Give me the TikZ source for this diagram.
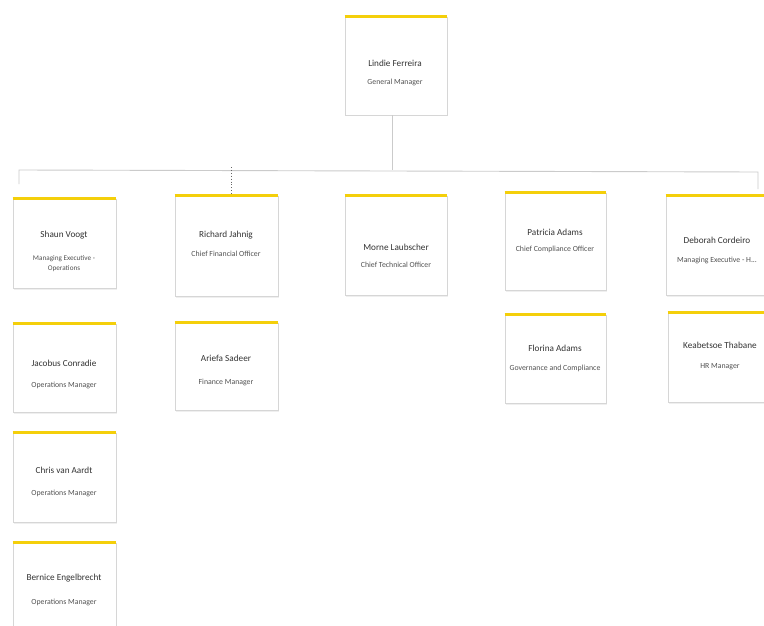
\documentclass[tikz,border=0pt]{standalone}
\usepackage{fontspec}
\setmainfont{Carlito}
\usetikzlibrary{shadows}
\definecolor{barY}{HTML}{F4CF0A}
\definecolor{boxG}{HTML}{D6D6D6}
\definecolor{lineG}{HTML}{CBCBCB}
\definecolor{txtG}{HTML}{333333}
\tikzset{
  card/.style={draw=boxG, line width=0.8pt, fill=white, inner sep=0pt,
    drop shadow={opacity=0.12, shadow xshift=1pt, shadow yshift=-1.5pt}},
  ybar/.style={draw=barY, line width=3pt},
  nm/.style={font=\fontsize{9.2}{10}\selectfont, text=txtG, inner sep=0pt},
  rl/.style={font=\fontsize{7.8}{9}\selectfont, text=txtG!85, inner sep=0pt, align=center},
  rlsmall/.style={rl, font=\fontsize{7.2}{9.5}\selectfont},
  conn/.style={draw=lineG, line width=0.9pt},
  dotconn/.style={draw=black!60, line width=0.9pt, dotted}
}
\begin{document}
\begin{tikzpicture}[x=1pt,y=-1pt]
\useasboundingbox (0,0) rectangle (764,626);
\clip (0,0) rectangle (764,626);
\fill[white] (0,0) rectangle (764,626);

% connector end points
\coordinate (gmdrop) at (392,115);
\coordinate (busM) at (392,170);
\coordinate (busL) at (19,170);
\coordinate (busR) at (758,172);
\coordinate (endL) at (19,184);
\coordinate (endR) at (758,189);
\coordinate (dotT) at (231,167);

% boxes
\node[card, minimum width=102, minimum height=98] (gm) at (396,66) {};
\node[card, minimum width=103, minimum height=89] (shaun) at (64.5,243.5) {};
\node[card, minimum width=103, minimum height=100] (richard) at (226.5,246) {};
\node[card, minimum width=102, minimum height=99] (morne) at (396,245.5) {};
\node[card, minimum width=101, minimum height=97] (patricia) at (555.5,241.5) {};
\node[card, minimum width=102, minimum height=99] (deborah) at (717,245.5) {};
\node[card, minimum width=103, minimum height=88] (jacobus) at (64.5,368) {};
\node[card, minimum width=103, minimum height=87] (ariefa) at (226.5,366.5) {};
\node[card, minimum width=101, minimum height=88] (florina) at (555.5,359) {};
\node[card, minimum width=102, minimum height=89] (keabetsoe) at (719,357.5) {};
\node[card, minimum width=103, minimum height=89] (chris) at (64.5,477.5) {};
\node[card, minimum width=103, minimum height=89] (bernice) at (64.5,587.5) {};

\foreach \b in {gm,shaun,richard,morne,patricia,deborah,jacobus,ariefa,florina,keabetsoe,chris,bernice}
  \draw[ybar] (\b.north west) -- (\b.north east);

\draw[conn] (gm.south -| gmdrop) -- (busM);
\draw[conn] (endL) -- (busL) -- (busR) -- (endR);
\draw[dotconn] (dotT) -- (richard.north -| dotT);

% texts
\node[nm] (gm-n) at (395,63) {Lindie Ferreira};
\node[rl] (gm-r) at (395,82) {General Manager};

\node[nm] (shaun-n) at (64,235) {Shaun Voogt};
\node[rlsmall] (shaun-r) at (64,263.5) {Managing Executive -\\Operations};

\node[nm] (richard-n) at (226,235) {Richard Jahnig};
\node[rl] (richard-r) at (226,254) {Chief Financial Officer};

\node[nm] (morne-n) at (396,247) {Morne Laubscher};
\node[rl] (morne-r) at (396,265) {Chief Technical Officer};

\node[nm] (patricia-n) at (555,232) {Patricia Adams};
\node[rl] (patricia-r) at (555,249) {Chief Compliance Officer};

\node[nm] (deborah-n) at (717,240) {Deborah Cordeiro};
\node[rl] (deborah-r) at (717,260) {Managing Executive - H...};

\node[nm] (jacobus-n) at (64,363) {Jacobus Conradie};
\node[rl] (jacobus-r) at (64,385) {Operations Manager};

\node[nm] (ariefa-n) at (226,358) {Ariefa Sadeer};
\node[rl] (ariefa-r) at (226,382) {Finance Manager};

\node[nm] (florina-n) at (555,348) {Florina Adams};
\node[rl] (florina-r) at (555,368) {Governance and Compliance};

\node[nm] (keabetsoe-n) at (720,345) {Keabetsoe Thabane};
\node[rl] (keabetsoe-r) at (720,367) {HR Manager};

\node[nm] (chris-n) at (64,470) {Chris van Aardt};
\node[rl] (chris-r) at (64,493) {Operations Manager};

\node[nm] (bernice-n) at (64,578) {Bernice Engelbrecht};
\node[rl] (bernice-r) at (64,602) {Operations Manager};
\end{tikzpicture}
\end{document}
